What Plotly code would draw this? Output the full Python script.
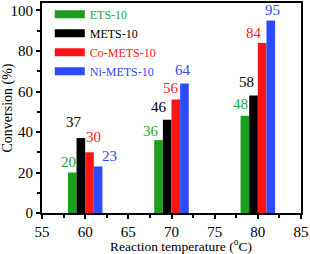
import plotly.graph_objects as go

temps = [60, 70, 80]
series_names = ["ETS-10", "METS-10", "Co-METS-10", "Ni-METS-10"]
ets = [20, 36, 48]
mets = [37, 46, 58]
co_mets = [30, 56, 84]
ni_mets = [23, 64, 95]
x_ticks = [55, 60, 65, 70, 75, 80, 85]
y_ticks = [0, 20, 40, 60, 80, 100]
x_title = "Reaction temperature (<sup>o</sup>C)"
y_title = "Conversion (%)"

values = [ets, mets, co_mets, ni_mets]
bar_colors = ["#1c9f1c", "#000000", "#ff1414", "#2d4cff"]
text_colors = ["#2aa52a", "#000000", "#ff1a1a", "#2d4cff"]
bar_offsets = [-2, -1, 0, 1]
# label nudges (px) per series, per group
label_dx = [[-3.5, -8, -4.5], [-7, -8, -7.5], [4, -5, -8], [11, -1, 1.5]]
label_dy = [[1, -1, 2], [6, 3, 4], [5, 2, 0], [0, 3, 1]]

FONT = "Liberation Serif"

fig = go.Figure()
for i, (name, vals) in enumerate(zip(series_names, values)):
    fig.add_trace(go.Bar(x=temps, y=vals, width=1, offset=bar_offsets[i],
                         marker=dict(color=bar_colors[i], line=dict(width=0)),
                         showlegend=False, name=name))
# legend entries (wide colour swatches)
for i, name in enumerate(series_names):
    fig.add_trace(go.Scatter(x=[None], y=[None], mode="lines",
                             line=dict(color=bar_colors[i], width=8),
                             name='<span style="color:%s">%s</span>' % (text_colors[i], name)))

for i, vals in enumerate(values):
    for j, (t, v) in enumerate(zip(temps, vals)):
        fig.add_annotation(x=t + bar_offsets[i] + 0.5, y=v, text=str(v),
                           showarrow=False, xanchor="center", yanchor="bottom",
                           xshift=label_dx[i][j], yshift=label_dy[i][j],
                           font=dict(family=FONT, size=15, color=text_colors[i]))

# x-axis title (placed slightly right of centre, as in the reference)
fig.add_annotation(xref="paper", yref="paper", x=0.535, y=0, yshift=-32,
                   xanchor="center", yanchor="middle", showarrow=False,
                   text=x_title, font=dict(family=FONT, size=13.5, color="black"))

axis_common = dict(showline=True, linecolor="black", linewidth=2, mirror=True,
                   ticks="outside", ticklen=4, tickwidth=1.5, tickcolor="black",
                   showgrid=False, zeroline=False, automargin=False,
                   tickfont=dict(family=FONT, size=15, color="black"))

fig.update_xaxes(range=[55, 85], tickvals=x_ticks,
                 minor=dict(dtick=2.5, tick0=55, ticks="outside", ticklen=3,
                            tickwidth=1.5, tickcolor="black"),
                 **axis_common)
fig.update_yaxes(range=[0, 103.7], tickvals=y_ticks,
                 minor=dict(dtick=10, tick0=0, ticks="outside", ticklen=3,
                            tickwidth=1.5, tickcolor="black"),
                 title=dict(text=y_title,
                            font=dict(family=FONT, size=14, color="black"), standoff=4),
                 **axis_common)

fig.update_layout(
    width=310, height=254,
    margin=dict(l=42, r=9, t=3, b=41, autoexpand=False),
    barmode="overlay",
    plot_bgcolor="white", paper_bgcolor="white",
    font=dict(family=FONT, color="black"),
    legend=dict(x=0.03, y=1.015, xanchor="left", yanchor="top",
                bgcolor="rgba(0,0,0,0)", borderwidth=0,
                font=dict(family=FONT, size=12), itemwidth=30,
                tracegroupgap=0),
)

fig.write_html("out.html", config={"displayModeBar": False},
               post_script="document.body.style.margin='0';document.body.style.padding='0';")
